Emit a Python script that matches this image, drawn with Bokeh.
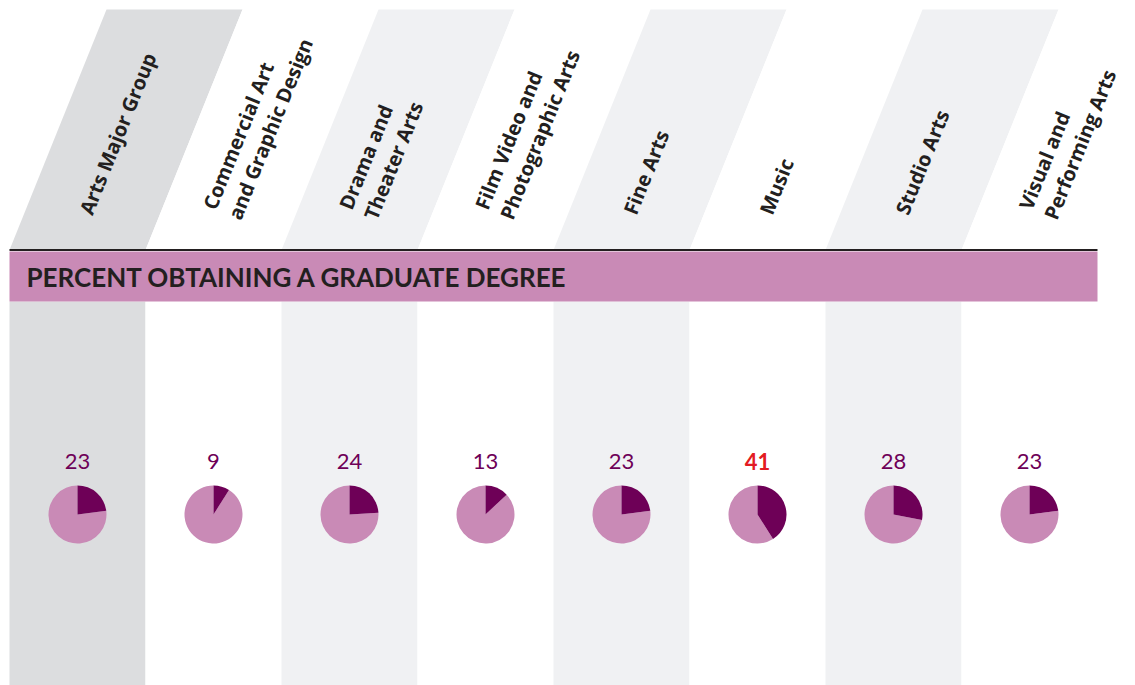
import math
from bokeh.plotting import figure
from bokeh.models import Range1d, ColumnDataSource
from bokeh.core.properties import value
from bokeh.embed import file_html
from bokeh.resources import INLINE

# ---------------- data ----------------
categories = ["Arts Major Group", "Commercial Art\nand Graphic Design", "Drama and\nTheater Arts",
              "Film Video and\nPhotographic Arts", "Fine Arts", "Music", "Studio Arts",
              "Visual and\nPerforming Arts"]
pct_graduate = [23, 9, 24, 13, 23, 41, 28, 23]
highlight = [False, False, False, False, False, True, False, False]
band_title = "PERCENT OBTAINING A GRADUATE DEGREE"

# ---------------- layout / style ----------------
W, H = 1135, 685
X0 = 9          # left of first column (page px)
COL_W = 136
TOP_Y, LINE_Y, BAND_TOP, BAND_BOT = 9, 249.5, 251, 301
SHIFT = 97      # slant of header parallelograms
PIE_Y, PIE_R, NUM_Y = 514, 29, 461
ANG = math.radians(68)

col_fill = ["#dcdddf", "#ffffff", "#f0f1f3", "#ffffff", "#f0f1f3", "#ffffff", "#f0f1f3", "#ffffff"]
DARK = "#6e0057"
PINK = "#c98ab6"
RED = "#e31b23"
INK = "#231f20"

def Y(py):  # page y -> data y
    return H - py

p = figure(width=W, height=H, x_range=Range1d(0, W), y_range=Range1d(0, H),
           output_backend="svg", toolbar_location=None, min_border=0,
           background_fill_color="white", border_fill_color="white", outline_line_color=None)
p.axis.visible = False
p.grid.visible = False

n = len(categories)
cx = [X0 + COL_W * (i + 0.5) for i in range(n)]

# slanted header parallelograms
xs, ys = [], []
for i in range(n):
    l = X0 + COL_W * i
    r = l + COL_W
    xs.append([l, r, r + SHIFT, l + SHIFT])
    ys.append([Y(LINE_Y), Y(LINE_Y), Y(TOP_Y), Y(TOP_Y)])
p.patches(xs, ys, fill_color=col_fill, line_color=None)

# lower column backgrounds
p.quad(left=[X0 + COL_W * i for i in range(n)], right=[X0 + COL_W * (i + 1) for i in range(n)],
       bottom=Y(700), top=Y(BAND_BOT), fill_color=col_fill, line_color=None)

# band
p.quad(left=X0, right=X0 + COL_W * n, bottom=Y(BAND_BOT), top=Y(BAND_TOP), fill_color=PINK, line_color=None)
p.segment(x0=X0, x1=X0 + COL_W * n, y0=Y(LINE_Y), y1=Y(LINE_Y), line_color=INK, line_width=2)
p.text(x=[26], y=[Y(276)], text=[band_title], text_font=value("Lato"), text_font_style="bold",
       text_font_size="26px", text_color=INK, text_baseline="middle", text_align="left")

# header labels (rotated)
lx, ly, lt = [], [], []
nx, ny = math.sin(ANG), -math.cos(ANG)   # perpendicular, toward lower-right (data coords)
LINE_SP = 27
for i, cat in enumerate(categories):
    lines = cat.split("\n")
    k = len(lines)
    ax, ay = cx[i] + 8, Y(213)
    for j, t in enumerate(lines):
        off = (j - (k - 1) / 2) * LINE_SP
        lx.append(ax + nx * off)
        ly.append(ay + ny * off)
        lt.append(t)
p.text(x=lx, y=ly, text=lt, angle=ANG, text_font=value("Open Sans"), text_font_style="bold",
       text_font_size="20px", text_color=INK, text_baseline="middle", text_align="left")

# pies
frac = [v / 100 for v in pct_graduate]
p.wedge(x=cx, y=[Y(PIE_Y)] * n, radius=PIE_R, radius_units="screen",
        start_angle=[math.pi / 2 for f in frac], end_angle=[math.pi / 2 - 2 * math.pi * f for f in frac],
        direction="anticlock", fill_color=PINK, line_color=None)
p.wedge(x=cx, y=[Y(PIE_Y)] * n, radius=PIE_R, radius_units="screen",
        start_angle=[math.pi / 2 - 2 * math.pi * f for f in frac], end_angle=[math.pi / 2] * n,
        direction="anticlock", fill_color=DARK, line_color=None)

# value labels
src = ColumnDataSource(dict(x=cx, y=[Y(NUM_Y)] * n, t=[str(v) for v in pct_graduate],
                            c=[RED if h else DARK for h in highlight],
                            s=["bold" if h else "normal" for h in highlight]))
p.text(x="x", y="y", text="t", source=src, text_color="c", text_font_style="s",
       text_font=value("Lato"), text_font_size="22px", text_align="center", text_baseline="middle")

open("out.html", "w").write(file_html(p, INLINE))
